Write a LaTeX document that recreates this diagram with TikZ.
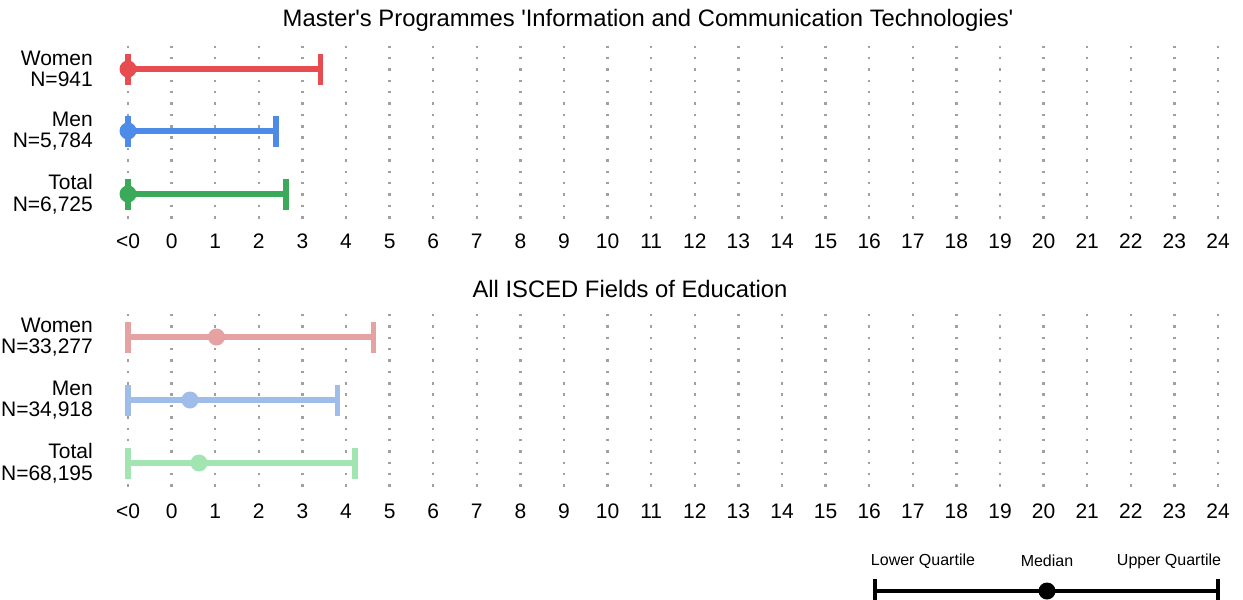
\documentclass[tikz,border=0pt]{standalone}
\usepackage{fontspec}
\setmainfont{Liberation Sans}
\definecolor{cRed}{RGB}{231,76,80}
\definecolor{cBlue}{RGB}{78,139,232}
\definecolor{cGreen}{RGB}{58,170,90}
\definecolor{lRed}{RGB}{230,162,162}
\definecolor{lBlue}{RGB}{160,188,232}
\definecolor{lGreen}{RGB}{162,228,178}
\definecolor{gridgray}{RGB}{160,160,160}
\begin{document}
\begin{tikzpicture}[x=1pt,y=-1pt]
\useasboundingbox (0,0) rectangle (1243,600);
\tikzset{
  gridline/.style={draw=gridgray, line width=2.5pt, dash pattern=on 2.5pt off 8.87pt},
  barline/.style={line width=5.5pt},
  medianDot/.style={circle, fill, inner sep=0pt, minimum size=17pt},
  rowlab/.style={anchor=east, align=right, inner sep=0pt, font=\fontsize{21}{21.5}\selectfont},
  ticklab/.style={inner sep=0pt, font=\fontsize{21}{24}\selectfont},
  ttl/.style={inner sep=0pt, font=\fontsize{23.8}{26}\selectfont},
  leglab/.style={inner sep=0pt, font=\fontsize{16}{18}\selectfont},
}
\newcommand{\xv}[1]{171.6+43.6*(#1)}
% errbar: name, y, med, hi, colour
\newcommand{\errbar}[5]{%
  \coordinate (#1lo) at (128,#2);
  \coordinate (#1hi) at ({\xv{#4}},#2);
  \draw[barline,#5] (#1lo) -- (#1hi);
  \draw[barline,#5] ([yshift=-15.5pt]#1lo) -- ([yshift=15.5pt]#1lo);
  \draw[barline,#5] ([yshift=-15.5pt]#1hi) -- ([yshift=15.5pt]#1hi);
  \node[medianDot,fill=#5] (#1med) at ({#3},#2) {};
}
% grids
\foreach \i in {0,...,25} {
  \draw[gridline] ({128+43.6*\i},45.5) -- ({128+43.6*\i},220);
  \draw[gridline] ({128+43.6*\i},313.8) -- ({128+43.6*\i},489);
}
% titles
\node[ttl] (t1) at (648,20) {Master\textquotesingle s Programmes \textquotesingle Information and Communication Technologies\textquotesingle};
\node[ttl] (t2) at (630,289) {All ISCED Fields of Education};
% tick labels
\node[ticklab] (ta) at (128,241) {<0};
\node[ticklab] (tb) at (128,511) {<0};
\foreach \v in {0,...,24} {
  \node[ticklab] (ta\v) at ({\xv{\v}},241) {\v};
  \node[ticklab] (tb\v) at ({\xv{\v}},511) {\v};
}
% row labels
\node[rowlab] (l1) at (93,69) {Women\\N=941};
\node[rowlab] (l2) at (93,131) {Men\\N=5,784};
\node[rowlab] (l3) at (93,194) {Total\\N=6,725};
\node[rowlab] (l4) at (93,337) {Women\\N=33,277};
\node[rowlab] (l5) at (93,400) {Men\\N=34,918};
\node[rowlab] (l6) at (93,463) {Total\\N=68,195};
% bars
\errbar{a}{69}{128}{3.41}{cRed}
\errbar{b}{131}{128}{2.40}{cBlue}
\errbar{c}{194}{128}{2.62}{cGreen}
\errbar{d}{337}{216.5}{4.63}{lRed}
\errbar{e}{400}{190}{3.81}{lBlue}
\errbar{f}{463}{199}{4.21}{lGreen}
% legend
\coordinate (glo) at (875,591);
\coordinate (ghi) at (1218,591);
\draw[line width=4pt,black] (glo) -- (ghi);
\draw[line width=4pt,black] ([yshift=-9pt]glo) -- ([yshift=12pt]glo);
\draw[line width=4pt,black] ([yshift=-9pt]ghi) -- ([yshift=12pt]ghi);
\node[medianDot,fill=black] (gmed) at (1047,591) {};
\node[leglab] (g1) at (923,561) {Lower Quartile};
\node[leglab] (g2) at (1047,561) {Median};
\node[leglab] (g3) at (1169,561) {Upper Quartile};
\end{tikzpicture}
\end{document}
